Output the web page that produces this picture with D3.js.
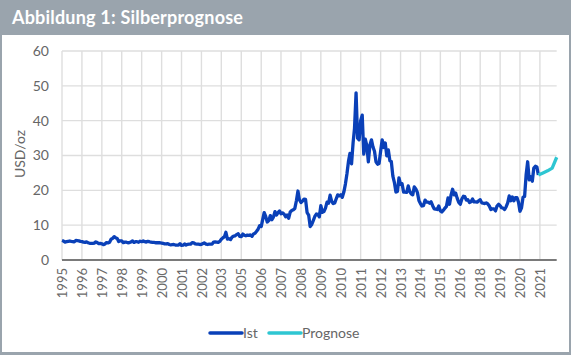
<!DOCTYPE html>
<html><head><meta charset="utf-8">
<script src="https://cdn.jsdelivr.net/npm/d3@7"></script>
<style>
html,body{margin:0;padding:0;background:#fff;}
svg{display:block;font-family:"Lato","Open Sans",sans-serif;}
</style></head>
<body>
<svg id="c" width="571" height="355"></svg>
<script>
// Month-end silver price, USD/oz, from April 1995 to March 2021
const istStart = "1995-04";
const ist1995 = [5.60,5.45,5.15,5.25,5.35,5.45,5.35,5.30,5.20];
const ist1996 = [5.60,5.55,5.50,5.35,5.30,5.10,5.05,5.20,4.95,4.80,4.80,4.75];
const ist1997 = [4.85,5.20,5.00,4.70,4.75,4.65,4.40,4.60,5.00,4.90,5.10,5.95];
const ist1998 = [6.20,6.70,6.40,6.20,5.30,5.50,5.50,5.00,5.15,5.10,4.95,5.00];
const ist1999 = [5.20,5.50,5.05,5.25,5.25,5.10,5.40,5.25,5.50,5.25,5.15,5.35];
const ist2000 = [5.25,5.10,5.05,5.05,4.95,5.00,4.95,4.95,4.85,4.75,4.65,4.60];
const ist2001 = [4.70,4.45,4.35,4.40,4.45,4.30,4.25,4.25,4.70,4.20,4.25,4.60];
const ist2002 = [4.30,4.50,4.55,4.55,5.00,4.90,4.60,4.55,4.55,4.45,4.50,4.75];
const ist2003 = [4.90,4.55,4.45,4.55,4.55,4.55,5.15,5.20,5.15,5.05,5.35,5.95];
const ist2004 = [6.35,6.70,7.95,6.00,6.10,5.85,6.55,6.85,6.95,7.30,7.55,6.80];
const ist2005 = [6.70,7.45,7.10,6.95,7.15,7.05,7.20,6.80,7.50,7.70,8.25,8.85];
const ist2006 = [9.85,9.60,11.50,13.60,12.50,10.90,11.30,12.75,11.55,12.30,13.90,12.90];
const ist2007 = [13.60,14.10,13.30,13.50,13.20,12.40,12.90,12.00,13.80,14.20,14.40,14.80];
const ist2008 = [17.00,19.80,17.30,16.50,16.90,17.50,17.40,13.60,12.90,9.60,10.20,11.30];
const ist2009 = [12.50,13.20,13.10,12.40,15.60,13.70,13.90,14.90,16.60,16.30,18.60,16.90];
const ist2010 = [16.20,16.40,17.50,18.70,18.40,18.70,18.00,19.50,21.80,24.70,28.30,30.60];
const ist2011 = [27.60,33.70,37.80,48.00,35.00,34.50,40.00,41.60,30.40,34.70,32.80,28.20];
const ist2012 = [33.00,34.50,32.50,31.20,28.20,27.50,27.70,31.20,34.50,32.30,33.60,29.90];
const ist2013 = [31.60,28.50,28.30,24.10,22.30,19.50,19.70,23.60,21.70,21.90,19.50,19.50];
const ist2014 = [19.40,21.30,19.70,19.00,18.70,21.00,20.40,19.40,17.10,16.20,15.50,15.60];
const ist2015 = [17.20,16.60,16.60,16.30,16.70,15.60,14.70,14.60,14.50,15.50,14.10,13.80];
const ist2016 = [14.30,14.90,15.40,17.80,16.00,18.70,20.30,18.70,19.20,17.70,16.50,16.00];
const ist2017 = [17.50,18.30,18.20,17.20,17.30,16.50,16.70,17.50,16.70,16.70,16.60,17.00];
const ist2018 = [17.30,16.40,16.30,16.20,16.40,16.10,15.50,14.50,14.70,14.70,14.10,15.50];
const ist2019 = [16.00,15.60,15.00,14.90,14.50,15.30,16.40,18.40,17.00,18.10,17.00,17.90];
const ist2020 = [17.90,16.60,14.00,15.00,18.00,18.20,24.40,28.20,23.00,23.90,22.60,26.40];
const ist2021 = [26.90,26.70,24.40];

// Forecast, quarterly
const progDates = ["2021-03","2021-06","2021-09","2021-12","2022-03"];
const progValues = [24.4,25.0,25.6,26.4,29.5];

const yTicks = [0,10,20,30,40,50,60];
const axisStart = "1995-04";
const axisEnd = "2022-03";
const tickStepMonths = 13;
const tickCount = 25;

const title = "Abbildung 1: Silberprognose";
const yLabel = "USD/oz";
const seriesNames = ["Ist","Prognose"];
const seriesColors = ["#0a40b8","#2ec6d2"];

// ---------- build ----------
const parseM = d3.timeParse("%Y-%m");
const istValues = [].concat(ist1995,ist1996,ist1997,ist1998,ist1999,ist2000,ist2001,ist2002,
  ist2003,ist2004,ist2005,ist2006,ist2007,ist2008,ist2009,ist2010,ist2011,ist2012,ist2013,
  ist2014,ist2015,ist2016,ist2017,ist2018,ist2019,ist2020,ist2021);
const s0 = parseM(istStart);
const ist = istValues.map((v,i)=>({d:d3.timeMonth.offset(s0,i), v}));
const prog = progDates.map((d,i)=>({d:parseM(d), v:progValues[i]}));

const W = 571, H = 355;
const svg = d3.select("#c");

// frame
svg.append("rect").attr("x",0).attr("y",0).attr("width",W).attr("height",H).attr("fill","#fff");
svg.append("rect").attr("x",0).attr("y",0).attr("width",W).attr("height",35).attr("fill","#9aa4ad");
svg.append("rect").attr("x",0).attr("y",0).attr("width",2).attr("height",H).attr("fill","#9aa4ad");
svg.append("rect").attr("x",W-2).attr("y",0).attr("width",2).attr("height",H).attr("fill","#9aa4ad");
svg.append("rect").attr("x",0).attr("y",H-3).attr("width",W).attr("height",3).attr("fill","#9aa4ad");
svg.append("text").attr("x",12).attr("y",24).attr("fill","#fff")
  .attr("font-size",18).attr("font-weight","bold").attr("letter-spacing",0.2).text(title);

const x = d3.scaleTime().domain([parseM(axisStart), parseM(axisEnd)]).range([62,556.7]);
const y = d3.scaleLinear().domain([0,60]).range([260,51]);

const tickDates = d3.range(tickCount).map(k=>d3.timeMonth.offset(parseM(axisStart), k*tickStepMonths));

// gridlines
const g = svg.append("g");
g.selectAll("line.h").data(yTicks.filter(t=>t>0)).join("line")
  .attr("x1",62).attr("x2",556.7).attr("y1",d=>y(d)).attr("y2",d=>y(d))
  .attr("stroke","#dedede").attr("stroke-width",1.4);
g.selectAll("line.v").data(tickDates).join("line")
  .attr("x1",d=>x(d)).attr("x2",d=>x(d)).attr("y1",y(60)).attr("y2",y(0))
  .attr("stroke","#dedede").attr("stroke-width",1.4);

// y axis labels
const yAxis = d3.axisLeft(y).tickValues(yTicks).tickSize(0).tickPadding(13);
const ya = svg.append("g").attr("transform","translate(62,0)").call(yAxis);
ya.select(".domain").remove();
ya.selectAll("text").attr("fill","#666").attr("font-size",14).attr("font-family","Lato,sans-serif");

svg.append("text").attr("transform","translate(25,154) rotate(-90)")
  .attr("text-anchor","middle").attr("fill","#666").attr("font-size",14).text(yLabel);

// x axis
const xAxis = d3.axisBottom(x).tickValues(tickDates).tickFormat(d3.timeFormat("%Y")).tickSize(0).tickPadding(0);
const xa = svg.append("g").attr("transform",`translate(0,${y(0)})`).call(xAxis);
xa.select(".domain").remove();
xa.selectAll("text").attr("fill","#6a6a6a").attr("font-size",13).attr("font-family","Lato,sans-serif")
  .attr("transform","rotate(-90)").attr("text-anchor","end").attr("x",-8).attr("y",0).attr("dy","0.35em");
svg.append("line").attr("x1",62).attr("x2",556.7).attr("y1",y(0)).attr("y2",y(0))
  .attr("stroke","#7a7a7a").attr("stroke-width",2);

// lines
const line = d3.line().x(d=>x(d.d)).y(d=>y(d.v)).curve(d3.curveLinear);
svg.append("path").datum(ist).attr("d",line).attr("fill","none")
  .attr("stroke",seriesColors[0]).attr("stroke-width",3.3).attr("stroke-linejoin","round");
svg.append("path").datum(prog).attr("d",line).attr("fill","none")
  .attr("stroke",seriesColors[1]).attr("stroke-width",3.3).attr("stroke-linejoin","round");

// legend
const leg = svg.append("g");
const legX = [210, 269];
seriesNames.forEach((n,i)=>{
  leg.append("line").attr("x1",legX[i]).attr("x2",legX[i]+32).attr("y1",333).attr("y2",333)
    .attr("stroke",seriesColors[i]).attr("stroke-width",3.5).attr("stroke-linecap","round");
  leg.append("text").attr("x",legX[i]+33).attr("y",338).attr("fill","#666").attr("font-size",14).text(n);
});
</script>
</body></html>
